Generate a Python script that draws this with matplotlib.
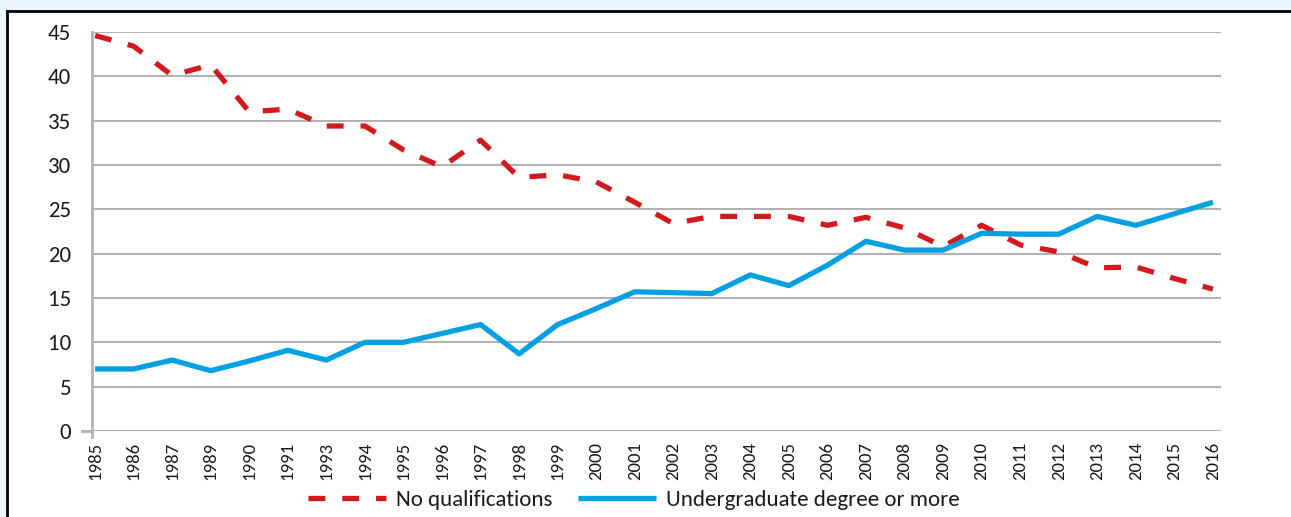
import numpy as np
import matplotlib
matplotlib.use("Agg")
from matplotlib import pyplot as plt
from matplotlib import font_manager
from matplotlib.patches import Rectangle
from matplotlib.lines import Line2D

# Calibri look-alike if there is one, else Lato
avail = set(f.name for f in font_manager.fontManager.ttflist)
if 'Carlito' in avail:
    FONT, YSIZE, XSIZE, LSIZE = 'Carlito', 16.5, 13.5, 16.5
else:
    FONT, YSIZE, XSIZE, LSIZE = 'Lato', 16, 12.5, 16
plt.rcParams['font.family'] = [FONT, 'DejaVu Sans']

# survey years (1988 and 1992 are missing in the source)
years = ['1985', '1986', '1987', '1989', '1990', '1991', '1993', '1994',
         '1995', '1996', '1997', '1998', '1999', '2000', '2001', '2002',
         '2003', '2004', '2005', '2006', '2007', '2008', '2009', '2010',
         '2011', '2012', '2013', '2014', '2015', '2016']

# % with no qualifications
no_qual = [44.6, 43.4, 40.1, 41.3, 36.0, 36.3, 34.4, 34.4, 31.7, 29.8,
           32.8, 28.6, 28.9, 28.1, 25.8, 23.4, 24.2, 24.2, 24.2, 23.2,
           24.1, 22.9, 20.8, 23.2, 21.0, 20.2, 18.4, 18.5, 17.2, 16.0]

# % with undergraduate degree or more
degree = [7.0, 7.0, 8.0, 6.8, 7.9, 9.1, 8.0, 10.0, 10.0, 11.0,
          12.0, 8.7, 12.0, 13.8, 15.7, 15.6, 15.5, 17.6, 16.4, 18.7,
          21.4, 20.4, 20.4, 22.3, 22.2, 22.2, 24.2, 23.2, 24.5, 25.8]

yticks = np.arange(0, 46, 5)

RED = '#d2191e'
BLUE = '#00a0e2'
GRID = '#b2b2b2'
TXT = '#1a1a1a'

fig = plt.figure(figsize=(12.91, 5.17), dpi=100)
fig.patch.set_facecolor('#eaf5fd')

# white panel with black border on top/left
panel = Rectangle((7/1291, 0), 1.0, 1 - 11/517, transform=fig.transFigure,
                  facecolor='white', edgecolor='none', zorder=-10)
fig.add_artist(panel)
fig.add_artist(Line2D([7/1291, 1], [1 - 11/517, 1 - 11/517],
                      transform=fig.transFigure, color='black', lw=2))
fig.add_artist(Line2D([7/1291, 7/1291], [0, 1 - 11/517],
                      transform=fig.transFigure, color='black', lw=2))

ax = fig.add_axes([92/1291, 1 - 431/517, (1221 - 92)/1291, (431 - 32)/517])
ax.set_facecolor('none')
ax.set_zorder(1)

x = np.arange(len(years))
ax.plot(x, no_qual, color=RED, lw=3.8, dashes=(3.2, 3.2),
        dash_capstyle='butt', label='No qualifications', zorder=3)
ax.plot(x, degree, color=BLUE, lw=3.8, solid_capstyle='butt',
        label='Undergraduate degree or more', zorder=3)

ax.set_xlim(-0.08, 29.21)
ax.set_ylim(0, 45)
ax.set_yticks(yticks)
ax.set_yticklabels([str(v) for v in yticks], fontsize=YSIZE, color=TXT)
ax.set_xticks(x)
ax.set_xticklabels(years, rotation=90, fontsize=XSIZE, color=TXT)
ax.tick_params(axis='y', length=0, pad=15)
ax.tick_params(axis='x', length=0, pad=8)

ax.grid(axis='y', color=GRID, lw=1.5)
ax.set_axisbelow(True)
for s in ['top', 'right', 'bottom']:
    ax.spines[s].set_visible(False)
ax.spines['left'].set_color(GRID)
ax.spines['left'].set_linewidth(2)
ax.spines['left'].set_bounds(-0.7, 45)
ax.axhline(0, color=GRID, lw=2, zorder=2)
# little tick at the origin
ax.plot([-0.009, 0], [0, 0], transform=ax.get_yaxis_transform(),
        color=GRID, lw=2, clip_on=False)

leg = fig.legend(loc='center', bbox_to_anchor=(634/1291, 1 - 500/517),
                 ncol=2, frameon=False, fontsize=LSIZE, handlelength=3.4,
                 columnspacing=1.1, handletextpad=0.45)
for t in leg.get_texts():
    t.set_color(TXT)

fig.savefig('out.png', dpi=100, facecolor=fig.get_facecolor())
